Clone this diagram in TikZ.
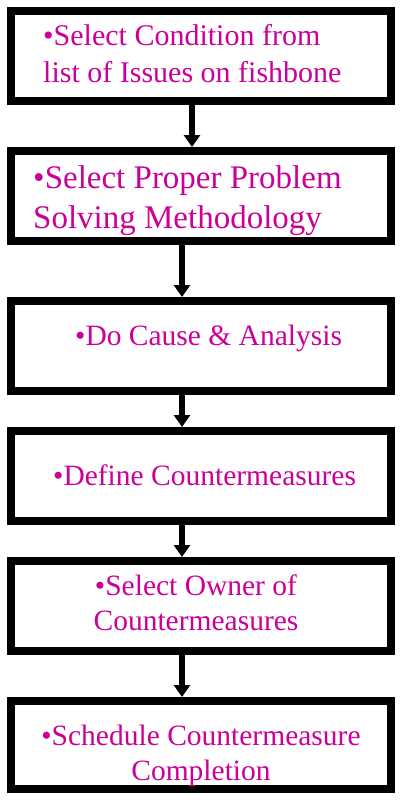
\documentclass[tikz,border=0pt]{standalone}
\usepackage{fontspec}
\setmainfont{Liberation Serif}
\usetikzlibrary{arrows.meta}
\definecolor{stepmagenta}{RGB}{204,0,153}

\begin{document}
\begin{tikzpicture}[
    x=1pt, y=1pt,
    stepbox/.style={
        draw, line width=8pt, fill=white,
        minimum width=380pt, minimum height=90pt,
        inner sep=0pt
    },
    steptxt/.style={
        text=stepmagenta, inner sep=0pt,
        font=\fontsize{29.5}{36}\selectfont
    },
    arr/.style={
        line width=6pt,
        -{Triangle[width=16pt, length=12pt]}
    }
]
\useasboundingbox (0,0) rectangle (400,-800);

% ----------------------------------------------------------
% Kaesten
% ----------------------------------------------------------
\node[stepbox] (b1) at (201, -56)  {};
\node[stepbox] (b2) at (201, -196) {};
\node[stepbox] (b3) at (201, -346) {};
\node[stepbox] (b4) at (201, -476) {};
\node[stepbox] (b5) at (201, -606) {};
\node[stepbox, minimum height=88pt] (b6) at (201, -745) {};

% ----------------------------------------------------------
% Texte (base = Grundlinie der letzten Zeile)
% ----------------------------------------------------------
\node[steptxt, align=left, anchor=base west, font=\fontsize{30}{37}\selectfont] (t1) at (43, -82)
    {•Select Condition from\\list of Issues on fishbone};
\node[steptxt, align=left, anchor=base west, font=\fontsize{33}{40}\selectfont] (t2) at (33, -228)
    {•Select Proper Problem\\Solving Methodology};
\node[steptxt, anchor=base west] (t3) at (75, -345)
    {•Do Cause \& Analysis};
\node[steptxt, anchor=base west] (t4) at (53, -485)
    {•Define Countermeasures};
\node[steptxt, align=center, anchor=base, font=\fontsize{29.5}{35}\selectfont] (t5) at (196, -630)
    {•Select Owner of\\Countermeasures};
\node[steptxt, align=center, anchor=base, font=\fontsize{29.5}{35}\selectfont] (t6) at (201, -780)
    {•Schedule Countermeasure\\Completion};

% Pfeile zwischen den Kaesten
\draw[arr] ([xshift=-9pt]b1.south) -- ([xshift=-9pt]b2.north);
\draw[arr] ([xshift=-19pt]b2.south) -- ([xshift=-19pt]b3.north);
\draw[arr] ([xshift=-19pt]b3.south) -- ([xshift=-19pt]b4.north);
\draw[arr] ([xshift=-19pt]b4.south) -- ([xshift=-19pt]b5.north);
\draw[arr] ([xshift=-19pt]b5.south) -- ([xshift=-19pt]b6.north);

\end{tikzpicture}
\end{document}
